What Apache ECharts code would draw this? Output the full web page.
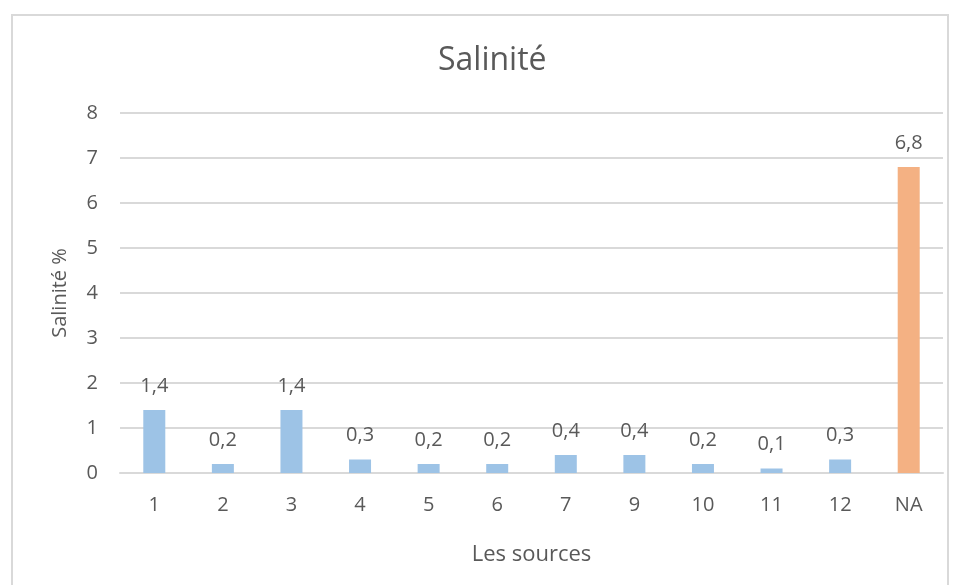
<!DOCTYPE html>
<html>
<head>
<meta charset="utf-8">
<script src="https://cdn.jsdelivr.net/npm/echarts@6/dist/echarts.min.js"></script>
<style>
  html, body { margin: 0; padding: 0; background: #fff; }
  #chart { width: 960px; height: 585px; }
</style>
</head>
<body>
<div id="chart"></div>
<script>
var categories = ['1', '2', '3', '4', '5', '6', '7', '9', '10', '11', '12', 'NA']
var salinite = [1.4, 0.2, 1.4, 0.3, 0.2, 0.2, 0.4, 0.4, 0.2, 0.1, 0.3, 6.8]
var yTicks = [0, 8, 1]

var blue = '#9DC3E6'
var orange = '#F4B183'
var textColor = '#595959'

var chart = echarts.init(document.getElementById('chart'))
chart.setOption({
  animation: false,
  textStyle: { fontFamily: 'Open Sans, sans-serif' },
  graphic: [{
    type: 'rect',
    shape: { x: 12, y: 15, width: 936, height: 580 },
    style: { fill: 'none', stroke: '#D9D9D9', lineWidth: 2 },
    silent: true
  }],
  title: {
    text: 'Salinité',
    left: 433,
    top: 40,
    textStyle: { color: textColor, fontSize: 32, fontWeight: 'normal' }
  },
  grid: { left: 120, right: 17, top: 113, bottom: 112, containLabel: false },
  xAxis: {
    type: 'category',
    data: categories,
    name: 'Les sources',
    nameLocation: 'middle',
    nameGap: 71,
    nameTextStyle: { color: textColor, fontSize: 22 },
    axisLine: { lineStyle: { color: '#D9D9D9', width: 2 } },
    axisTick: { show: false },
    axisLabel: { color: textColor, fontSize: 20, margin: 22 }
  },
  yAxis: {
    type: 'value',
    min: yTicks[0],
    max: yTicks[1],
    interval: yTicks[2],
    name: 'Salinité %',
    nameLocation: 'middle',
    nameGap: 50,
    nameTextStyle: { color: textColor, fontSize: 20 },
    axisLine: { show: false },
    axisTick: { show: false },
    axisLabel: { color: textColor, fontSize: 20, margin: 22 },
    splitLine: { lineStyle: { color: '#D9D9D9', width: 2 } }
  },
  series: [{
    type: 'bar',
    barWidth: 22,
    data: salinite.map(function (v, i) {
      return {
        value: v,
        itemStyle: { color: categories[i] === 'NA' ? orange : blue }
      }
    }),
    label: {
      show: true,
      position: 'top',
      distance: 14,
      color: textColor,
      fontSize: 20,
      formatter: function (p) {
        return String(p.value).replace('.', ',')
      }
    }
  }]
})
</script>
</body>
</html>
